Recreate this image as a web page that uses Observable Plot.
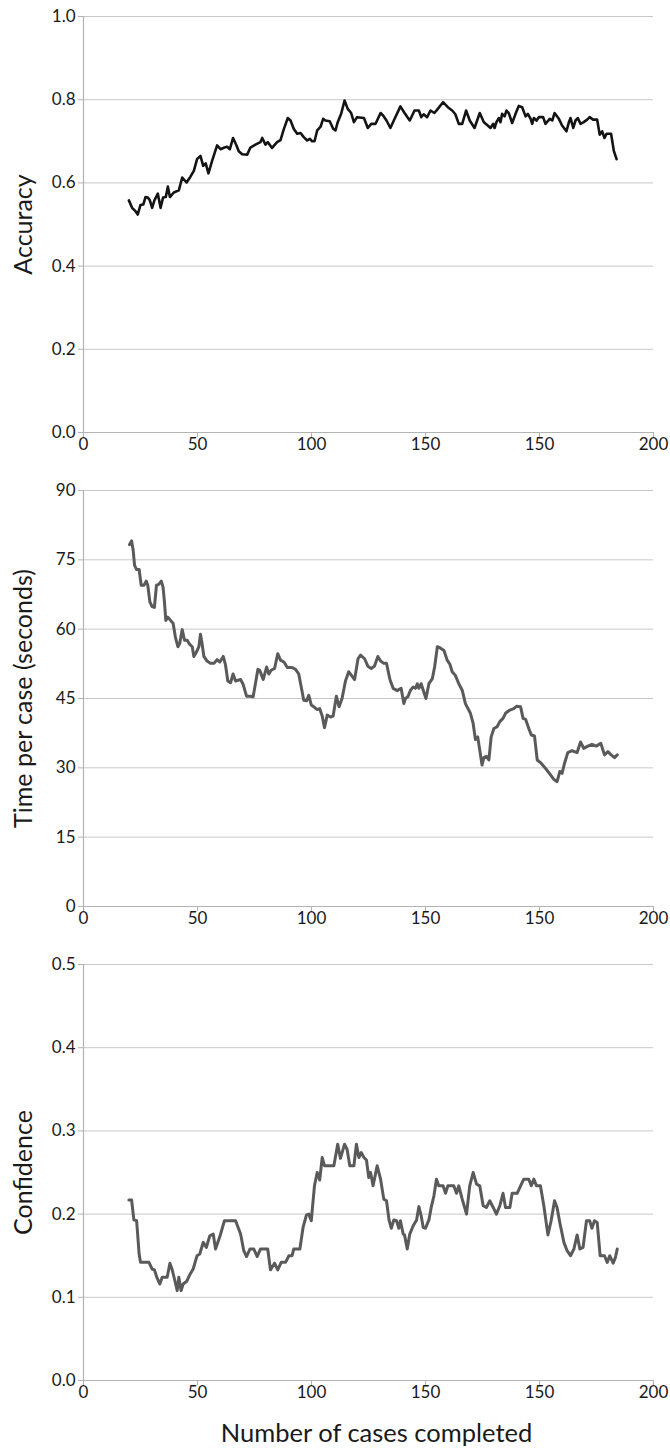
<!DOCTYPE html>
<html><head><meta charset="utf-8">
<script src="https://cdn.jsdelivr.net/npm/d3@7"></script>
<script src="https://cdn.jsdelivr.net/npm/@observablehq/plot@0.6"></script>
<style>
body{margin:0;background:#fff;}
#chart{width:670px;overflow:hidden;}
#chart svg{display:block;}
</style></head><body><div id="chart"></div>
<script>
// X axis (as printed in the original figure)
const xTicks = [0, 50, 100, 150, 200, 250];
const xTickLabels = ["0", "50", "100", "150", "150", "200"];
const xTitle = "Number of cases completed";

// Panel 1: Accuracy
const accYTicks = [0, 0.2, 0.4, 0.6, 0.8, 1.0];
const accCases = [
  19.9,21.3,22.8,23.8,25.0,26.2,27.2,28.2,29.1,30.1,
  31.1,32.6,33.8,34.9,36.1,37.0,37.9,39.6,41.8,43.3,
  45.2,46.9,48.4,49.8,51.3,52.5,53.6,54.8,56.4,58.6,
  60.1,61.8,63.0,64.2,65.6,67.1,68.1,69.6,71.8,73.2,
  75.4,77.6,78.4,79.8,80.8,82.7,84.9,86.4,87.9,89.6,
  90.8,92.2,93.7,95.2,96.6,98.1,99.3,100.3,101.3,102.5,
  104.0,105.1,106.1,108.0,109.5,110.5,111.5,113.0,114.5,115.9,
  117.4,118.6,120.0,123.0,124.7,126.2,128.1,130.3,131.4,132.9,
  134.6,136.1,139.0,140.8,143.1,145.2,147.1,148.1,149.2,150.7,
  152.2,153.9,155.4,157.7,159.8,161.7,163.1,164.6,166.1,167.8,
  169.4,171.5,173.8,175.6,177.3,178.5,179.7,180.3,181.1,182.2,
  182.9,183.6,184.7,185.5,186.5,188.0,189.5,190.9,192.4,193.9,
  194.9,196.1,196.8,197.5,198.7,199.7,201.6,202.6,204.5,205.6,
  206.6,208.5,209.9,211.8,212.9,213.6,214.8,215.8,216.8,218.0,
  219.4,220.9,222.0,223.5,225.3,226.4,227.5,228.5,229.4,231.4,
  232.6,233.8
];
const accuracy = [
  .558,.540,.532,.524,.547,.548,.566,.565,.558,.540,
  .558,.574,.540,.565,.566,.591,.566,.577,.582,.613,
  .601,.615,.629,.657,.665,.641,.647,.623,.653,.690,
  .681,.685,.687,.681,.708,.690,.676,.669,.668,.685,
  .692,.698,.708,.692,.698,.684,.698,.703,.730,.756,
  .750,.730,.718,.720,.710,.702,.706,.700,.700,.726,
  .735,.754,.750,.748,.730,.726,.746,.766,.798,.778,
  .768,.746,.758,.756,.732,.742,.742,.768,.762,.750,
  .732,.750,.784,.768,.750,.774,.774,.758,.765,.758,
  .774,.768,.778,.794,.782,.774,.765,.742,.742,.774,
  .750,.732,.768,.746,.738,.732,.742,.732,.746,.756,
  .746,.766,.760,.774,.768,.744,.766,.785,.782,.760,
  .766,.754,.742,.756,.750,.758,.758,.742,.754,.750,
  .768,.754,.738,.724,.746,.756,.732,.750,.756,.742,
  .746,.752,.758,.752,.752,.716,.724,.708,.718,.718,
  .677,.657
];

// Panel 2: Time per case (seconds)
const timeYTicks = [0, 15, 30, 45, 60, 75, 90];
const timeCases = [
  20.2,21.1,21.8,22.4,23.3,24.4,25.3,26.5,27.5,28.2,
  29.1,30.1,31.1,32.0,33.0,34.1,34.9,35.5,36.1,37.0,
  38.2,39.3,40.3,41.4,42.2,43.3,44.3,45.5,46.6,47.7,
  48.4,49.6,50.6,51.3,52.0,52.8,54.2,55.7,57.2,58.6,
  59.8,61.3,62.3,63.3,64.5,65.6,66.7,68.9,70.0,71.5,
  73.2,74.4,75.4,76.5,77.3,78.8,80.3,81.3,82.3,83.8,
  85.2,86.4,87.9,89.4,91.5,93.0,94.4,95.5,96.6,97.8,
  98.8,99.9,101.3,102.5,103.6,104.7,105.7,106.9,108.3,109.5,
  110.9,112.1,113.4,114.9,116.3,118.9,120.4,121.5,123.3,124.7,
  126.2,127.6,129.1,130.3,131.7,132.9,134.4,135.8,137.6,139.3,
  140.5,141.2,142.3,143.4,144.6,145.6,146.4,147.1,148.1,149.0,
  150.2,151.5,153.0,154.0,155.2,156.3,158.1,159.5,160.7,161.7,
  163.1,164.6,166.1,167.5,169.7,170.9,171.9,172.9,173.8,174.8,
  175.6,176.7,177.8,178.8,180.0,181.4,182.6,184.0,185.1,187.0,
  188.7,189.9,191.7,192.8,193.9,195.3,196.4,197.8,199.0,200.7,
  202.6,204.5,206.3,207.7,208.9,209.9,211.0,212.4,214.3,216.5,
  218.0,219.4,221.2,223.0,224.9,226.9,228.5,230.0,231.4,232.9,
  234.1
];
const timePerCase = [
  78.3,79.1,77.0,73.8,72.9,72.9,69.5,69.5,70.4,69.5,
  65.9,64.9,64.7,69.5,69.7,70.4,69.1,65.9,61.9,62.6,
  61.9,61.3,58.3,56.2,56.9,59.9,57.6,57.6,56.7,56.2,
  54.1,55.1,56.2,58.9,56.9,54.1,53.1,52.6,52.6,53.4,
  52.9,54.1,52.2,48.8,48.4,50.3,48.8,49.1,48.1,45.5,
  45.5,45.4,48.2,51.3,51.1,49.1,51.8,50.3,51.1,51.5,
  54.7,53.3,52.9,51.7,51.7,51.3,50.3,47.5,44.6,44.5,
  45.7,43.6,43.1,42.6,42.8,41.2,38.7,41.4,41.0,41.2,
  45.5,43.2,45.0,48.8,50.8,49.1,53.6,54.4,53.6,52.0,
  51.5,52.0,54.1,53.1,52.6,52.6,49.1,47.2,46.7,47.2,
  43.9,45.0,45.4,46.8,47.5,47.2,48.2,47.2,48.2,46.8,
  45.0,48.2,49.3,51.8,56.2,56.0,55.4,53.3,52.4,50.8,
  50.0,48.2,46.8,43.9,41.8,39.6,36.1,36.7,33.8,30.6,
  32.2,32.5,31.7,36.7,38.5,38.9,40.0,40.7,41.8,42.5,
  42.8,43.3,43.2,40.7,40.5,38.5,37.1,36.9,31.7,31.0,
  29.9,28.7,27.5,27.0,29.2,28.8,31.0,33.3,33.7,33.3,
  35.6,34.2,34.7,35.1,34.7,35.3,32.8,33.5,32.8,32.2,
  32.8
];

// Panel 3: Confidence
const confYTicks = [0, 0.1, 0.2, 0.3, 0.4, 0.5];
const confCases = [
  19.9,21.1,22.1,23.3,24.4,25.0,26.5,28.7,30.1,31.1,
  32.3,33.5,34.5,36.7,37.9,38.9,39.9,41.1,41.8,42.8,
  43.7,45.2,46.6,48.1,49.8,51.0,52.5,53.9,55.4,56.9,
  57.9,59.8,61.8,64.5,66.7,68.9,70.3,71.5,73.0,74.7,
  76.2,77.6,79.8,80.8,82.0,83.8,85.2,86.7,88.6,90.1,
  91.5,92.2,94.9,96.3,97.8,98.8,99.9,101.3,102.5,103.6,
  104.7,105.7,107.6,109.8,111.5,112.7,114.5,115.6,116.8,118.6,
  119.7,120.8,121.8,123.0,124.1,125.1,125.9,127.0,128.8,130.3,
  131.7,132.9,134.0,135.0,136.1,137.3,138.3,139.0,140.2,140.8,
  142.0,143.1,144.6,146.1,147.1,148.1,149.0,150.0,151.5,152.5,
  153.7,154.8,155.8,157.7,158.8,159.8,162.4,163.6,164.6,166.1,
  168.0,169.4,170.9,172.4,173.8,175.3,176.7,178.2,179.7,181.1,
  182.6,184.0,185.1,187.0,188.0,190.2,191.7,193.1,195.3,196.4,
  197.5,198.7,200.4,201.9,203.7,205.1,206.6,207.7,208.9,210.7,
  212.1,213.6,215.1,216.5,217.7,219.1,220.6,222.0,223.0,224.1,
  225.3,226.6,228.5,229.7,230.8,232.3,233.3,234.1
];
const confidence = [
  .217,.217,.193,.192,.152,.142,.142,.142,.134,.133,
  .123,.116,.124,.124,.141,.133,.122,.108,.124,.108,
  .116,.119,.127,.134,.150,.152,.166,.160,.174,.176,
  .158,.173,.192,.192,.192,.176,.156,.149,.158,.158,
  .149,.158,.158,.158,.133,.141,.133,.142,.142,.150,
  .150,.158,.158,.184,.199,.200,.192,.234,.250,.241,
  .268,.258,.258,.258,.284,.267,.284,.278,.258,.258,
  .284,.268,.274,.268,.265,.244,.250,.234,.258,.242,
  .218,.216,.193,.183,.193,.192,.183,.192,.176,.175,
  .158,.176,.186,.193,.209,.198,.184,.183,.193,.208,
  .222,.242,.234,.234,.225,.234,.234,.225,.234,.218,
  .200,.234,.250,.236,.234,.210,.208,.216,.208,.200,
  .210,.225,.208,.208,.225,.225,.234,.242,.242,.234,
  .242,.234,.234,.210,.175,.192,.216,.208,.190,.166,
  .156,.150,.158,.175,.158,.160,.192,.192,.183,.192,
  .190,.150,.150,.142,.150,.141,.148,.158
];

const FONT = "Lato, 'Open Sans', sans-serif";
const TEXT = "#1a1a1a";
const AXIS = "#b3b3b3";
const GRID = "#c8c8c8";

function panel(o) {
  const data = o.cases.map((c, i) => ({c, v: o.values[i]}));
  const marks = [
    Plot.gridY(o.yTicks.slice(1), {stroke: GRID, strokeOpacity: 1, strokeWidth: 1}),
    Plot.ruleY([o.yTicks[0]], {stroke: AXIS, strokeWidth: 1.2}),
    Plot.ruleX([0], {stroke: AXIS, strokeWidth: 1.2}),
    Plot.axisY(o.yTicks, {tickFormat: o.yFormat, tickSize: 5, tickPadding: 3, stroke: AXIS, fill: TEXT, fontSize: 17, label: null}),
    Plot.axisX(xTicks, {tickFormat: d => xTickLabels[xTicks.indexOf(d)], tickSize: 5, tickPadding: 0, stroke: AXIS, fill: TEXT, fontSize: 17, label: null}),
    Plot.line(data, {x: "c", y: "v", stroke: o.stroke, strokeWidth: o.strokeWidth, strokeLinejoin: "round", strokeLinecap: "round"}),
    Plot.text([o.yLabel], {text: d => d, frameAnchor: "left", dx: -60, rotate: -90, fontSize: 25, fill: TEXT, textAnchor: "middle", lineAnchor: "middle"})
  ];
  if (o.xTitle) {
    marks.push(Plot.text([o.xTitle], {text: d => d, frameAnchor: "bottom", dx: 8, dy: 53, fontSize: 25.5, fill: TEXT, textAnchor: "middle", lineAnchor: "middle"}));
  }
  return Plot.plot({
    width: 670,
    height: o.height,
    marginLeft: 83,
    marginRight: 17,
    marginTop: 16,
    marginBottom: o.height - 16 - 416,
    x: {domain: [0, 250], axis: null},
    y: {domain: [o.yTicks[0], o.yTicks[o.yTicks.length - 1]], axis: null},
    style: {fontFamily: FONT, color: TEXT, background: "white", overflow: "visible"},
    marks
  });
}

const root = document.getElementById("chart");
root.append(panel({cases: accCases, values: accuracy, yTicks: accYTicks, yFormat: d3.format(".1f"), yLabel: "Accuracy", stroke: "#141414", strokeWidth: 2.6, height: 474}));
root.append(panel({cases: timeCases, values: timePerCase, yTicks: timeYTicks, yFormat: d3.format("d"), yLabel: "Time per case (seconds)", stroke: "#5a5a5a", strokeWidth: 3, height: 474}));
root.append(panel({cases: confCases, values: confidence, yTicks: confYTicks, yFormat: d3.format(".1f"), yLabel: "Confidence", stroke: "#5a5a5a", strokeWidth: 3, height: 500, xTitle}));
</script></body></html>
